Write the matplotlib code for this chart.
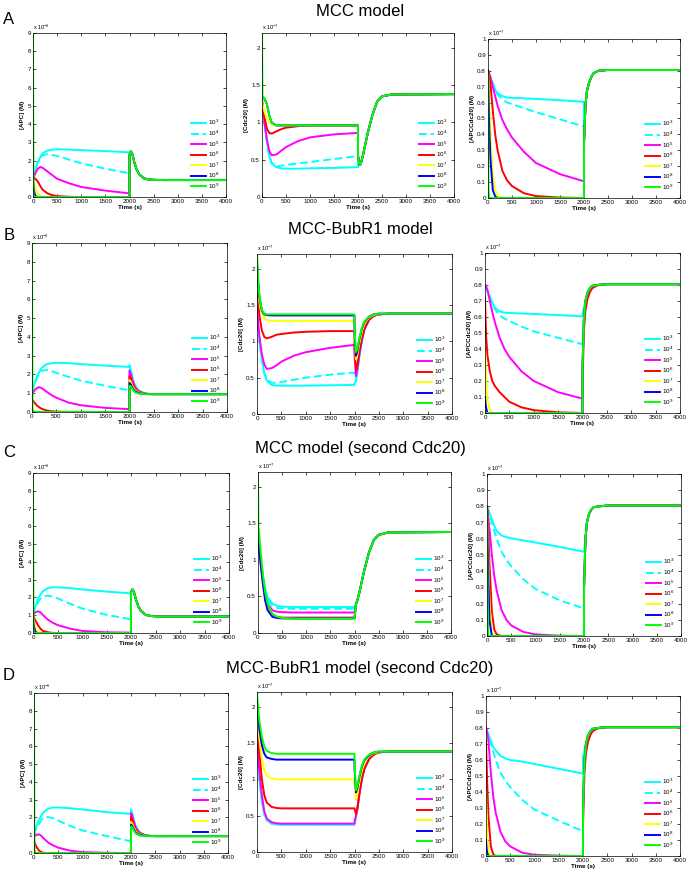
import matplotlib
matplotlib.use("Agg")
import matplotlib.pyplot as plt
import numpy as np

plt.rcParams['font.family'] = ['Liberation Sans', 'DejaVu Sans']
plt.rcParams['mathtext.fontset'] = 'custom'
plt.rcParams['mathtext.rm'] = 'Liberation Sans'

W, H = 690, 872

# time points (s) at which curves were read
T_PRE = [0, 10, 25, 50, 100, 150, 200, 300, 400, 500, 750, 1000, 1500, 1999]
T_POST = [2001, 2030, 2060, 2100, 2150, 2200, 2300, 2400, 2500, 2700, 4000]

LABELS = ['10$^3$', '10$^4$', '10$^5$', '10$^6$', '10$^7$', '10$^8$', '10$^9$']
COLORS = ['#00FFFF', '#00FFFF', '#FF00FF', '#FF0000', '#FFFF00', '#0000FF', '#00FF00']
STYLES = ['-', '--', '-', '-', '-', '-', '-']

# ---------- row A : MCC model ----------
a1_post = [2.3, 2.5, 2.35, 1.9, 1.5, 1.25, 1.02, 0.96, 0.94, 0.93, 0.93]
a1_pre = [
    [1.0, 1.1, 1.25, 1.5, 1.9, 2.2, 2.4, 2.55, 2.6, 2.62, 2.6, 2.57, 2.52, 2.45],
    [1.0, 1.1, 1.25, 1.5, 1.9, 2.15, 2.3, 2.35, 2.3, 2.25, 2.05, 1.85, 1.55, 1.3],
    [1.0, 1.05, 1.15, 1.3, 1.55, 1.65, 1.6, 1.4, 1.2, 1.0, 0.75, 0.55, 0.35, 0.2],
    [1.0, 1.02, 1.03, 1.0, 0.85, 0.6, 0.4, 0.2, 0.1, 0.05, 0.01, 0, 0, 0],
    [1.0, 0.85, 0.7, 0.5, 0.15, 0.05, 0, 0, 0, 0, 0, 0, 0, 0],
    [1.0, 0.6, 0.3, 0.05, 0, 0, 0, 0, 0, 0, 0, 0, 0, 0],
    [9.0, 0, 0, 0, 0, 0, 0, 0, 0, 0, 0, 0, 0, 0],
]
a2_post = [0.55, 0.43, 0.45, 0.55, 0.7, 0.85, 1.1, 1.28, 1.35, 1.375, 1.38]
a2_pre = [
    [1.3, 1.22, 1.12, 1.0, 0.75, 0.55, 0.45, 0.4, 0.385, 0.38, 0.38, 0.385, 0.39, 0.4],
    [1.3, 1.22, 1.12, 1.0, 0.75, 0.56, 0.46, 0.41, 0.42, 0.43, 0.45, 0.47, 0.51, 0.55],
    [1.3, 1.22, 1.12, 1.0, 0.78, 0.62, 0.56, 0.57, 0.62, 0.67, 0.75, 0.8, 0.84, 0.86],
    [1.3, 1.25, 1.18, 1.08, 0.92, 0.86, 0.85, 0.88, 0.91, 0.93, 0.95, 0.96, 0.96, 0.96],
    [1.28, 1.25, 1.2, 1.15, 1.05, 1.0, 0.98, 0.96, 0.96, 0.96, 0.96, 0.96, 0.96, 0.96],
    [1.35, 1.34, 1.33, 1.32, 1.25, 1.1, 1.0, 0.96, 0.96, 0.96, 0.96, 0.96, 0.96, 0.96],
    [2.2, 1.35, 1.34, 1.32, 1.25, 1.1, 1.0, 0.96, 0.96, 0.96, 0.96, 0.96, 0.96, 0.96],
]
a3_post = [0.35, 0.58, 0.67, 0.72, 0.76, 0.785, 0.8, 0.803, 0.805, 0.805, 0.805]
a3_pre = [
    [0.8, 0.79, 0.78, 0.76, 0.72, 0.68, 0.66, 0.64, 0.632, 0.63, 0.627, 0.623, 0.615, 0.605],
    [0.8, 0.79, 0.78, 0.76, 0.72, 0.68, 0.65, 0.62, 0.6, 0.59, 0.565, 0.54, 0.495, 0.45],
    [0.8, 0.79, 0.78, 0.76, 0.7, 0.64, 0.58, 0.49, 0.43, 0.38, 0.29, 0.22, 0.15, 0.105],
    [0.8, 0.8, 0.78, 0.72, 0.55, 0.4, 0.3, 0.17, 0.11, 0.075, 0.03, 0.012, 0.003, 0],
    [0.8, 0.75, 0.6, 0.4, 0.15, 0.05, 0.01, 0, 0, 0, 0, 0, 0, 0],
    [0.8, 0.65, 0.45, 0.25, 0.05, 0.01, 0, 0, 0, 0, 0, 0, 0, 0],
    [0.78, 0.05, 0, 0, 0, 0, 0, 0, 0, 0, 0, 0, 0, 0],
]

# ---------- row B : MCC-BubR1 model ----------
b1_pre = [
    [1.0, 1.1, 1.3, 1.5, 1.9, 2.15, 2.35, 2.55, 2.6, 2.62, 2.6, 2.55, 2.47, 2.4],
    [1.0, 1.1, 1.3, 1.5, 1.8, 2.05, 2.2, 2.24, 2.18, 2.08, 1.87, 1.67, 1.4, 1.15],
    [0.9, 0.95, 1.05, 1.15, 1.28, 1.32, 1.27, 1.08, 0.9, 0.76, 0.5, 0.36, 0.22, 0.15],
    [0.7, 0.65, 0.58, 0.5, 0.35, 0.25, 0.17, 0.08, 0.04, 0.02, 0.005, 0, 0, 0],
    [0.3, 0.2, 0.1, 0.03, 0, 0, 0, 0, 0, 0, 0, 0, 0, 0],
    [0.1, 0.05, 0.02, 0, 0, 0, 0, 0, 0, 0, 0, 0, 0, 0],
    [9.0, 0, 0, 0, 0, 0, 0, 0, 0, 0, 0, 0, 0, 0],
]
b1_post = [
    [2.5, 2.2, 1.85, 1.5, 1.27, 1.13, 1.0, 0.96, 0.95, 0.95, 0.95],
    [2.4, 2.15, 1.8, 1.47, 1.25, 1.12, 1.0, 0.96, 0.95, 0.95, 0.95],
    [2.2, 2.0, 1.7, 1.4, 1.2, 1.09, 0.99, 0.96, 0.95, 0.95, 0.95],
    [1.9, 1.75, 1.5, 1.28, 1.14, 1.06, 0.98, 0.96, 0.95, 0.95, 0.95],
    [1.7, 1.58, 1.38, 1.2, 1.09, 1.03, 0.97, 0.95, 0.95, 0.95, 0.95],
    [1.55, 1.45, 1.28, 1.13, 1.05, 1.0, 0.96, 0.95, 0.95, 0.95, 0.95],
    [1.4, 1.35, 1.22, 1.08, 1.01, 0.98, 0.95, 0.95, 0.95, 0.95, 0.95],
]
b2_pre = [
    [1.4, 1.3, 1.18, 1.0, 0.75, 0.56, 0.46, 0.4, 0.39, 0.39, 0.39, 0.39, 0.395, 0.4],
    [1.4, 1.3, 1.18, 1.0, 0.75, 0.57, 0.48, 0.43, 0.43, 0.44, 0.47, 0.5, 0.54, 0.57],
    [1.47, 1.37, 1.25, 1.07, 0.82, 0.68, 0.62, 0.63, 0.67, 0.72, 0.8, 0.85, 0.91, 0.95],
    [1.77, 1.67, 1.52, 1.35, 1.15, 1.06, 1.04, 1.06, 1.09, 1.1, 1.12, 1.13, 1.14, 1.14],
    [1.95, 1.85, 1.7, 1.53, 1.38, 1.31, 1.29, 1.28, 1.28, 1.28, 1.28, 1.28, 1.28, 1.28],
    [2.1, 1.95, 1.8, 1.6, 1.42, 1.37, 1.36, 1.355, 1.355, 1.355, 1.355, 1.355, 1.355, 1.355],
    [2.2, 2.05, 1.85, 1.62, 1.43, 1.38, 1.37, 1.37, 1.37, 1.37, 1.37, 1.37, 1.37, 1.37],
]
b2_post = [
    [0.42, 0.45, 0.57, 0.8, 1.0, 1.15, 1.3, 1.35, 1.37, 1.38, 1.38],
    [0.55, 0.47, 0.58, 0.8, 1.0, 1.15, 1.3, 1.35, 1.37, 1.38, 1.38],
    [0.8, 0.52, 0.62, 0.82, 1.01, 1.16, 1.3, 1.35, 1.37, 1.38, 1.38],
    [0.9, 0.6, 0.68, 0.85, 1.03, 1.17, 1.3, 1.35, 1.37, 1.38, 1.38],
    [1.05, 0.75, 0.82, 0.98, 1.13, 1.24, 1.33, 1.36, 1.375, 1.38, 1.38],
    [1.1, 0.8, 0.87, 1.03, 1.17, 1.26, 1.34, 1.37, 1.38, 1.38, 1.38],
    [1.15, 0.85, 0.9, 1.05, 1.18, 1.27, 1.34, 1.37, 1.38, 1.38, 1.38],
]
b3_pre = [
    [0.8, 0.79, 0.78, 0.76, 0.73, 0.69, 0.66, 0.635, 0.628, 0.625, 0.622, 0.619, 0.612, 0.604],
    [0.8, 0.79, 0.78, 0.76, 0.72, 0.68, 0.65, 0.61, 0.59, 0.575, 0.54, 0.51, 0.47, 0.43],
    [0.8, 0.8, 0.79, 0.77, 0.7, 0.63, 0.57, 0.47, 0.4, 0.35, 0.26, 0.2, 0.13, 0.09],
    [0.72, 0.6, 0.47, 0.36, 0.26, 0.2, 0.17, 0.13, 0.1, 0.07, 0.035, 0.018, 0.004, 0],
    [0.4, 0.3, 0.2, 0.08, 0.02, 0, 0, 0, 0, 0, 0, 0, 0, 0],
    [0.1, 0.06, 0.03, 0, 0, 0, 0, 0, 0, 0, 0, 0, 0, 0],
    [0.01, 0, 0, 0, 0, 0, 0, 0, 0, 0, 0, 0, 0, 0],
]
b3_post = [
    [0.62, 0.66, 0.7, 0.75, 0.78, 0.795, 0.8, 0.803, 0.805, 0.805, 0.805],
    [0.43, 0.6, 0.7, 0.75, 0.78, 0.795, 0.8, 0.803, 0.805, 0.805, 0.805],
    [0.3, 0.6, 0.7, 0.75, 0.78, 0.795, 0.8, 0.803, 0.805, 0.805, 0.805],
    [0.2, 0.52, 0.64, 0.71, 0.755, 0.78, 0.797, 0.802, 0.805, 0.805, 0.805],
    [0.3, 0.6, 0.7, 0.75, 0.78, 0.795, 0.8, 0.803, 0.805, 0.805, 0.805],
    [0.3, 0.6, 0.7, 0.75, 0.78, 0.795, 0.8, 0.803, 0.805, 0.805, 0.805],
    [0.3, 0.6, 0.7, 0.75, 0.78, 0.795, 0.8, 0.803, 0.805, 0.805, 0.805],
]

# ---------- row C : MCC model (second Cdc20) ----------
c1_post = [2.3, 2.45, 2.3, 1.9, 1.5, 1.25, 1.02, 0.96, 0.94, 0.93, 0.93]
c1_pre = [
    [1.0, 1.1, 1.3, 1.5, 1.9, 2.15, 2.35, 2.52, 2.57, 2.57, 2.53, 2.45, 2.33, 2.23],
    [1.0, 1.1, 1.3, 1.45, 1.7, 1.92, 2.05, 2.1, 2.05, 1.95, 1.65, 1.38, 1.02, 0.77],
    [1.0, 1.05, 1.1, 1.17, 1.22, 1.17, 1.02, 0.76, 0.58, 0.45, 0.25, 0.12, 0.04, 0.02],
    [1.0, 0.95, 0.85, 0.7, 0.45, 0.25, 0.12, 0.04, 0.01, 0, 0, 0, 0, 0],
    [0.9, 0.75, 0.55, 0.3, 0.08, 0, 0, 0, 0, 0, 0, 0, 0, 0],
    [0.8, 0.55, 0.3, 0.05, 0, 0, 0, 0, 0, 0, 0, 0, 0, 0],
    [9.0, 0, 0, 0, 0, 0, 0, 0, 0, 0, 0, 0, 0, 0],
]
c2_post_tail = [0.39, 0.45, 0.55, 0.7, 0.85, 1.1, 1.27, 1.34, 1.375, 1.38]
c2_pre = [
    [1.4, 1.3, 1.2, 1.05, 0.8, 0.6, 0.49, 0.4, 0.37, 0.36, 0.355, 0.355, 0.355, 0.355],
    [1.4, 1.3, 1.2, 1.05, 0.78, 0.57, 0.46, 0.37, 0.34, 0.335, 0.33, 0.33, 0.33, 0.33],
    [1.4, 1.3, 1.18, 1.02, 0.75, 0.52, 0.4, 0.31, 0.29, 0.285, 0.28, 0.28, 0.28, 0.28],
    [1.4, 1.28, 1.15, 0.98, 0.7, 0.46, 0.33, 0.24, 0.22, 0.21, 0.21, 0.21, 0.21, 0.21],
    [1.4, 1.28, 1.15, 0.97, 0.68, 0.45, 0.32, 0.23, 0.21, 0.205, 0.2, 0.2, 0.2, 0.2],
    [1.4, 1.28, 1.15, 0.97, 0.68, 0.44, 0.31, 0.22, 0.205, 0.2, 0.2, 0.2, 0.2, 0.2],
    [2.2, 1.45, 1.35, 1.15, 0.8, 0.55, 0.4, 0.26, 0.22, 0.205, 0.195, 0.195, 0.195, 0.195],
]
c3_post_tail = [0.6, 0.7, 0.75, 0.78, 0.795, 0.8, 0.803, 0.805, 0.805, 0.805]
c3_pre = [
    [0.8, 0.79, 0.78, 0.76, 0.72, 0.68, 0.65, 0.62, 0.61, 0.603, 0.59, 0.577, 0.55, 0.52],
    [0.8, 0.79, 0.78, 0.75, 0.7, 0.65, 0.6, 0.52, 0.47, 0.43, 0.35, 0.29, 0.22, 0.17],
    [0.8, 0.78, 0.74, 0.66, 0.5, 0.37, 0.28, 0.16, 0.1, 0.065, 0.025, 0.01, 0.002, 0],
    [0.8, 0.75, 0.65, 0.45, 0.15, 0.04, 0.01, 0, 0, 0, 0, 0, 0, 0],
    [0.78, 0.68, 0.5, 0.2, 0.02, 0, 0, 0, 0, 0, 0, 0, 0, 0],
    [0.78, 0.62, 0.4, 0.1, 0, 0, 0, 0, 0, 0, 0, 0, 0, 0],
    [0.78, 0.3, 0, 0, 0, 0, 0, 0, 0, 0, 0, 0, 0, 0],
]

# ---------- row D : MCC-BubR1 model (second Cdc20) ----------
d1_pre = [
    [1.0, 1.1, 1.3, 1.5, 1.85, 2.1, 2.3, 2.5, 2.56, 2.56, 2.52, 2.45, 2.3, 2.2],
    [1.0, 1.1, 1.25, 1.4, 1.6, 1.85, 2.0, 2.02, 1.95, 1.82, 1.52, 1.27, 0.95, 0.66],
    [0.9, 0.93, 0.98, 1.03, 1.05, 0.97, 0.82, 0.57, 0.42, 0.3, 0.13, 0.05, 0.01, 0],
    [0.7, 0.62, 0.5, 0.35, 0.15, 0.05, 0.01, 0, 0, 0, 0, 0, 0, 0],
    [0.3, 0.2, 0.1, 0.02, 0, 0, 0, 0, 0, 0, 0, 0, 0, 0],
    [0.1, 0.05, 0.01, 0, 0, 0, 0, 0, 0, 0, 0, 0, 0, 0],
    [9.0, 0, 0, 0, 0, 0, 0, 0, 0, 0, 0, 0, 0, 0],
]
d1_post = [
    [2.45, 2.2, 1.85, 1.5, 1.27, 1.13, 1.0, 0.96, 0.95, 0.95, 0.95],
    [2.3, 2.1, 1.78, 1.46, 1.25, 1.12, 1.0, 0.96, 0.95, 0.95, 0.95],
    [2.25, 2.05, 1.72, 1.42, 1.22, 1.1, 0.99, 0.96, 0.95, 0.95, 0.95],
    [2.0, 1.85, 1.58, 1.32, 1.16, 1.07, 0.98, 0.96, 0.95, 0.95, 0.95],
    [1.75, 1.63, 1.42, 1.22, 1.1, 1.04, 0.97, 0.95, 0.95, 0.95, 0.95],
    [1.6, 1.5, 1.32, 1.15, 1.06, 1.01, 0.96, 0.95, 0.95, 0.95, 0.95],
    [1.5, 1.42, 1.26, 1.1, 1.02, 0.98, 0.95, 0.95, 0.95, 0.95, 0.95],
]
d2_pre = [
    [1.4, 1.32, 1.2, 1.0, 0.7, 0.52, 0.44, 0.39, 0.38, 0.375, 0.375, 0.375, 0.375, 0.375],
    [1.4, 1.32, 1.2, 1.0, 0.7, 0.52, 0.44, 0.39, 0.38, 0.38, 0.38, 0.38, 0.38, 0.38],
    [1.5, 1.42, 1.3, 1.1, 0.78, 0.56, 0.46, 0.41, 0.395, 0.39, 0.39, 0.39, 0.39, 0.39],
    [1.75, 1.67, 1.55, 1.35, 1.0, 0.78, 0.68, 0.62, 0.605, 0.6, 0.6, 0.6, 0.6, 0.6],
    [1.9, 1.83, 1.72, 1.55, 1.28, 1.12, 1.05, 1.01, 1.0, 1.0, 1.0, 1.0, 1.0, 1.0],
    [2.05, 1.97, 1.85, 1.68, 1.47, 1.35, 1.3, 1.28, 1.27, 1.27, 1.27, 1.27, 1.27, 1.27],
    [2.2, 2.1, 1.97, 1.8, 1.58, 1.45, 1.39, 1.36, 1.35, 1.35, 1.35, 1.35, 1.35, 1.35],
]
d2_post = [
    [0.38, 0.48, 0.6, 0.8, 1.0, 1.14, 1.28, 1.35, 1.37, 1.38, 1.38],
    [0.38, 0.48, 0.6, 0.8, 1.0, 1.14, 1.28, 1.35, 1.37, 1.38, 1.38],
    [0.42, 0.5, 0.6, 0.8, 1.0, 1.14, 1.28, 1.35, 1.37, 1.38, 1.38],
    [0.6, 0.52, 0.6, 0.8, 1.0, 1.14, 1.28, 1.34, 1.37, 1.38, 1.38],
    [0.95, 0.72, 0.8, 0.97, 1.12, 1.23, 1.32, 1.36, 1.375, 1.38, 1.38],
    [1.15, 0.82, 0.88, 1.03, 1.17, 1.26, 1.33, 1.37, 1.38, 1.38, 1.38],
    [1.2, 0.85, 0.9, 1.05, 1.18, 1.27, 1.34, 1.37, 1.38, 1.38, 1.38],
]
d3_pre = [
    [0.8, 0.79, 0.78, 0.76, 0.72, 0.68, 0.66, 0.625, 0.61, 0.6, 0.59, 0.575, 0.545, 0.515],
    [0.8, 0.79, 0.78, 0.75, 0.7, 0.65, 0.6, 0.52, 0.47, 0.43, 0.35, 0.29, 0.22, 0.155],
    [0.8, 0.79, 0.77, 0.72, 0.52, 0.37, 0.27, 0.15, 0.09, 0.06, 0.02, 0.008, 0.002, 0],
    [0.72, 0.6, 0.45, 0.25, 0.06, 0.01, 0, 0, 0, 0, 0, 0, 0, 0],
    [0.4, 0.28, 0.12, 0.03, 0, 0, 0, 0, 0, 0, 0, 0, 0, 0],
    [0.1, 0.05, 0.02, 0, 0, 0, 0, 0, 0, 0, 0, 0, 0, 0],
    [0.01, 0, 0, 0, 0, 0, 0, 0, 0, 0, 0, 0, 0, 0],
]
d3_post = b3_post

ROW_TITLES = ['MCC model', 'MCC-BubR1 model', 'MCC model (second Cdc20)',
              'MCC-BubR1 model (second Cdc20)']
ROW_LETTERS = ['A', 'B', 'C', 'D']
YLABELS = ['[APC] (M)', '[Cdc20] (M)', '[APCCdc20] (M)']
YEXP = ['-6', '-7', '-7']
YLIMS = [9, 2.2, 1]
YTICKS = [list(range(10)), [0, 0.5, 1, 1.5, 2], [i / 10 for i in range(11)]]


def join(pre, post):
    """pre is list of 7 rows, post either one shared row or 7 rows"""
    out = []
    for i, p in enumerate(pre):
        q = post[i] if isinstance(post[0], list) else post
        out.append(p + q)
    return out


panels = [
    [join(a1_pre, a1_post), join(a2_pre, a2_post), join(a3_pre, a3_post)],
    [join(b1_pre, b1_post), join(b2_pre, b2_post), join(b3_pre, b3_post)],
    [join(c1_pre, c1_post),
     [p + [p[-1]] + c2_post_tail for p in c2_pre],
     [p + [max(p[-1], 0.3)] + c3_post_tail for p in c3_pre]],
    [join(d1_pre, d1_post), join(d2_pre, d2_post), join(d3_pre, d3_post)],
]

# axes boxes in pixels: left, top, right, bottom
BOXES = [
    [(33, 33, 226, 197), (262, 33, 454, 197), (488, 39, 680, 198)],
    [(32, 243, 227, 412), (257, 254, 452, 414), (485, 253, 680, 413)],
    [(33, 473, 229, 633), (258, 472, 451, 633), (487, 474, 681, 636)],
    [(34, 693, 228, 853), (257, 692, 452, 852), (486, 696, 680, 856)],
]
TITLE_Y = [11, 229, 448, 668]
LETTER_Y = [20, 235, 452, 675]

t_all = T_PRE + T_POST

fig = plt.figure(figsize=(W / 100, H / 100), dpi=100)

for r in range(4):
    fig.text(360 / W, 1 - TITLE_Y[r] / H, ROW_TITLES[r], ha='center', va='center', fontsize=12)
    fig.text(9 / W, 1 - LETTER_Y[r] / H, ROW_LETTERS[r], ha='center', va='center', fontsize=12)
    for c in range(3):
        l, t, rr, b = BOXES[r][c]
        ax = fig.add_axes([l / W, 1 - b / H, (rr - l) / W, (b - t) / H])
        series = panels[r][c]
        for k in range(7):
            ax.plot(t_all, series[k], color=COLORS[k], linestyle=STYLES[k], lw=1.4,
                    label=LABELS[k], dashes=(4, 2) if k == 1 else (None, None))
        ax.set_xlim(0, 4000)
        ax.set_ylim(0, YLIMS[c])
        ax.set_xticks(range(0, 4001, 500))
        ax.set_yticks(YTICKS[c])
        ax.set_yticklabels(['%g' % v for v in YTICKS[c]])
        ax.tick_params(direction='in', length=2.5, width=0.5, labelsize=4.5, pad=1.5,
                       top=True, right=True)
        for sp in ax.spines.values():
            sp.set_linewidth(0.5)
        ax.set_xlabel('Time (s)', fontsize=4.5, fontweight='bold', labelpad=0.5)
        ax.set_ylabel(YLABELS[c], fontsize=4.5, fontweight='bold', labelpad=1.5)
        ax.text(0, 1.005, 'x 10$^{%s}$' % YEXP[c], transform=ax.transAxes, fontsize=4,
                ha='left', va='bottom')
        ax.legend(loc='lower right', frameon=False, fontsize=4.5, handlelength=2.4,
                  handletextpad=0.4, labelspacing=0.2, borderaxespad=0.8,
                  borderpad=0.2)

fig.savefig('out.png', dpi=100)
